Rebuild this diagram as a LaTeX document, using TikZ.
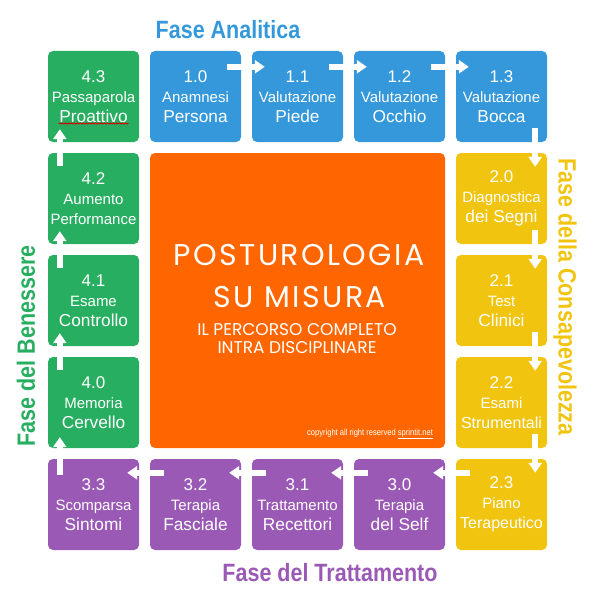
\documentclass[tikz,border=0pt]{standalone}
\usepackage{fontspec}
\setmainfont{Liberation Sans}
\newfontfamily\fasefont{Liberation Sans}[FakeStretch=0.86]
\newfontfamily\corefont{Poppins}[LetterSpace=8]
\newfontfamily\subfont{Poppins}
\usetikzlibrary{arrows.meta, calc, decorations.pathmorphing}
\definecolor{bluefase}{HTML}{3498DB}
\definecolor{greenfase}{HTML}{27AE60}
\definecolor{yellowfase}{HTML}{F1C40F}
\definecolor{purplefase}{HTML}{9B59B6}
\definecolor{orangecore}{HTML}{FF6600}
\newcommand{\numtxt}{\fontsize{17}{20}\selectfont}
\newcommand{\smtxt}{\fontsize{15}{20}\selectfont}
\newcommand{\lgtxt}{\fontsize{17.3}{20}\selectfont}
\newcommand{\mdtxt}{\fontsize{16}{20}\selectfont}

\begin{document}
\begin{tikzpicture}[x=1pt, y=-1pt,
  box/.style={rounded corners=5pt, minimum width=91pt, minimum height=91pt,
    inner sep=0pt, text=white, align=center, font=\fontsize{15}{20}\selectfont},
  flow/.style={draw=white, line width=6pt, -{Triangle[width=13pt,length=10pt]}},
  fase/.style={font=\fasefont\bfseries\fontsize{25}{25}\selectfont}]
  \useasboundingbox (0,0) rectangle (600,610);

  % Titoli delle fasi
  \node[fase, text=bluefase] (tanalitica) at (228,30) {Fase Analitica};
  \node[fase, text=greenfase, rotate=90] (tbenessere) at (26,346) {Fase del Benessere};
  \node[fase, text=yellowfase, rotate=-90] (tconsapevolezza) at (565,297) {Fase della Consapevolezza};
  \node[fase, text=purplefase] (ttrattamento) at (330,573) {Fase del Trattamento};

  % Centro
  \node[box, fill=orangecore, minimum width=295pt, minimum height=295pt] (centro) at (297.5,300.5) {};
  \node[text=white, font=\corefont\fontsize{30}{30}\selectfont] (riga1) at (299,255) {POSTUROLOGIA};
  \node[text=white, font=\corefont\fontsize{30}{30}\selectfont] (riga2) at (300,297) {SU MISURA};
  \node[text=white, font=\subfont\fontsize{17}{18}\selectfont, align=center] (riga3) at (297,339)
    {IL PERCORSO COMPLETO\\INTRA DISCIPLINARE};
  \node[text=white, font=\fasefont\fontsize{8.8}{9}\selectfont] (copy) at (370,434)
    {copyright all right reserved \underline{sprintit.net}};

  % Fase analitica
  \node[box, fill=bluefase] (b10) at (195.5,96.5) {{\numtxt 1.0}\\{\smtxt Anamnesi}\\{\lgtxt Persona}};
  \node[box, fill=bluefase] (b11) at (297.5,96.5) {{\numtxt 1.1}\\{\smtxt Valutazione}\\{\lgtxt Piede}};
  \node[box, fill=bluefase] (b12) at (399.5,96.5) {{\numtxt 1.2}\\{\smtxt Valutazione}\\{\lgtxt Occhio}};
  \node[box, fill=bluefase] (b13) at (501.5,96.5) {{\numtxt 1.3}\\{\smtxt Valutazione}\\{\lgtxt Bocca}};

  % Fase della consapevolezza
  \node[box, fill=yellowfase] (b20) at (501.5,198.5) {{\numtxt 2.0}\\{\smtxt Diagnostica}\\{\lgtxt dei Segni}};
  \node[box, fill=yellowfase] (b21) at (501.5,300.5) {{\numtxt 2.1}\\{\smtxt Test}\\{\lgtxt Clinici}};
  \node[box, fill=yellowfase] (b22) at (501.5,402.5) {{\numtxt 2.2}\\{\smtxt Esami}\\{\mdtxt Strumentali}};
  \node[box, fill=yellowfase] (b23) at (501.5,504.5) {{\numtxt 2.3}\\{\smtxt Piano}\\{\mdtxt Terapeutico}};

  % Fase del trattamento
  \node[box, fill=purplefase] (b30) at (399.5,504.5) {{\numtxt 3.0}\\{\smtxt Terapia}\\{\lgtxt del Self}};
  \node[box, fill=purplefase] (b31) at (297.5,504.5) {{\numtxt 3.1}\\{\smtxt Trattamento}\\{\lgtxt Recettori}};
  \node[box, fill=purplefase] (b32) at (195.5,504.5) {{\numtxt 3.2}\\{\smtxt Terapia}\\{\lgtxt Fasciale}};
  \node[box, fill=purplefase] (b33) at (93.5,504.5) {{\numtxt 3.3}\\{\smtxt Scomparsa}\\{\lgtxt Sintomi}};

  % Fase del benessere
  \node[box, fill=greenfase] (b40) at (93.5,402.5) {{\numtxt 4.0}\\{\smtxt Memoria}\\{\lgtxt Cervello}};
  \node[box, fill=greenfase] (b41) at (93.5,300.5) {{\numtxt 4.1}\\{\smtxt Esame}\\{\lgtxt Controllo}};
  \node[box, fill=greenfase] (b42) at (93.5,198.5) {{\numtxt 4.2}\\{\smtxt Aumento}\\{\smtxt Performance}};
  \node[box, fill=greenfase] (b43) at (93.5,96.5) {{\numtxt 4.3}\\{\smtxt Passaparola}\\{\lgtxt Proattivo}};
  \draw[red!85!black, line width=0.8pt, decorate, decoration={snake, amplitude=0.6pt, segment length=3pt}]
    ($(b43.center)+(-35,27)$) -- ($(b43.center)+(35,27)$);

  % Frecce
  \draw[flow] ($(b10.north east)+(-14,16)$) -- ($(b11.north west)+(13,16)$);
  \draw[flow] ($(b11.north east)+(-14,16)$) -- ($(b12.north west)+(13,16)$);
  \draw[flow] ($(b12.north east)+(-14,16)$) -- ($(b13.north west)+(13,16)$);
  \draw[flow] ($(b13.south east)+(-12,-14)$) -- ($(b20.north east)+(-12,14)$);
  \draw[flow] ($(b20.south east)+(-12,-14)$) -- ($(b21.north east)+(-12,14)$);
  \draw[flow] ($(b21.south east)+(-12,-14)$) -- ($(b22.north east)+(-12,14)$);
  \draw[flow] ($(b22.south east)+(-12,-14)$) -- ($(b23.north east)+(-12,14)$);
  \draw[flow] ($(b23.north west)+(14,14)$) -- ($(b30.north east)+(-12,14)$);
  \draw[flow] ($(b30.north west)+(14,14)$) -- ($(b31.north east)+(-12,14)$);
  \draw[flow] ($(b31.north west)+(14,14)$) -- ($(b32.north east)+(-12,14)$);
  \draw[flow] ($(b32.north west)+(14,14)$) -- ($(b33.north east)+(-12,14)$);
  \draw[flow] ($(b33.north west)+(12,16)$) -- ($(b40.south west)+(12,-11)$);
  \draw[flow] ($(b40.north west)+(12,13)$) -- ($(b41.south west)+(12,-13)$);
  \draw[flow] ($(b41.north west)+(12,13)$) -- ($(b42.south west)+(12,-13)$);
  \draw[flow] ($(b42.north west)+(12,13)$) -- ($(b43.south west)+(12,-13)$);
\end{tikzpicture}
\end{document}
